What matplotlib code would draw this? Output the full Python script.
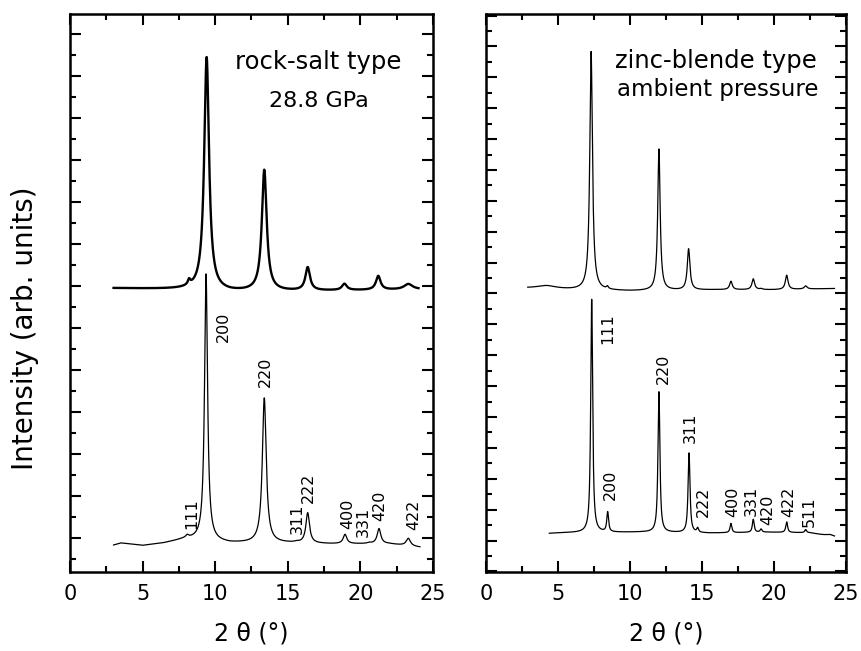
import numpy as np
import matplotlib
matplotlib.use('Agg')
from matplotlib import pyplot as plt
from matplotlib.ticker import MultipleLocator

plt.rcParams['font.family'] = ['DejaVu Sans']

# rock-salt type, 28.8 GPa (measured) : peak position, height, width
rs_exp_pos = [8.2, 9.41, 13.38, 16.37, 18.9, 21.23, 23.3]
rs_exp_height = [0.12, 5.55, 2.88, 0.55, 0.15, 0.33, 0.13]
rs_exp_width = [0.20, 0.40, 0.40, 0.38, 0.40, 0.38, 0.70]
rs_exp_base_x = [3.0, 8.0, 11.0, 15.0, 20.0, 24.0]
rs_exp_base_y = [5.95, 5.92, 5.87, 5.88, 5.90, 5.92]

# rock-salt type (calculated)
rs_calc_hkl = ['111', '200', '220', '311', '222', '400', '331', '420', '422']
rs_calc_pos = [8.08, 9.37, 13.38, 15.6, 16.37, 18.94, 20.6, 21.28, 23.3]
rs_calc_height = [0.05, 6.35, 3.45, 0.02, 0.72, 0.22, 0.02, 0.36, 0.18]
rs_calc_width = [0.20, 0.25, 0.32, 0.30, 0.30, 0.30, 0.30, 0.30, 0.35]
rs_calc_base_x = [3.0, 3.5, 5.0, 6.5, 8.0, 11.0, 15.0, 18.0, 22.0, 24.1]
rs_calc_base_y = [-0.17, -0.12, -0.18, -0.12, -0.02, -0.12, -0.12, -0.14, -0.14, -0.22]
rs_label_x = [8.36, 10.56, 13.45, 15.66, 16.42, 19.1, 20.22, 21.36, 23.7]
rs_label_y = [0.59, 5.03, 3.96, 0.47, 1.19, 0.57, 0.39, 0.77, 0.55]

# zinc-blende type, ambient pressure (measured)
zb_exp_pos = [4.2, 7.3, 8.43, 12.01, 14.07, 17.01, 18.56, 19.1, 20.88, 22.2]
zb_exp_height = [0.10, 7.72, 0.08, 4.58, 1.33, 0.27, 0.35, 0.03, 0.46, 0.10]
zb_exp_width = [1.6, 0.22, 0.15, 0.20, 0.22, 0.22, 0.22, 0.20, 0.22, 0.25]
zb_exp_base_x = [2.9, 6.0, 10.0, 16.0, 20.0, 24.2]
zb_exp_base_y = [8.17, 8.12, 8.08, 8.12, 8.12, 8.16]

# zinc-blende type (calculated)
zb_calc_hkl = ['111', '200', '220', '311', '222', '400', '331', '420', '422', '511']
zb_calc_pos = [7.34, 8.45, 12.01, 14.1, 14.7, 17.01, 18.56, 19.1, 20.88, 22.2, 23.9]
zb_calc_height = [7.55, 0.64, 4.55, 2.58, 0.14, 0.30, 0.42, 0.10, 0.34, 0.10, 0.05]
zb_calc_width = [0.16, 0.15, 0.16, 0.16, 0.15, 0.15, 0.15, 0.15, 0.15, 0.15, 0.6]
zb_calc_base_x = [4.4, 5.2, 10.8, 15.5, 19.5, 22.5, 24.2]
zb_calc_base_y = [0.23, 0.25, 0.27, 0.24, 0.27, 0.25, 0.12]
zb_label_x = [8.43, 8.66, 12.29, 14.21, 15.09, 17.13, 18.4, 19.54, 21.04, 22.45]
zb_label_y = [6.85, 1.81, 5.56, 3.66, 1.24, 1.24, 1.27, 0.98, 1.24, 0.92]


def pattern(base_x, base_y, pos, height, width, eta):
    x = np.linspace(base_x[0], base_x[-1], 4000)
    y = np.interp(x, base_x, base_y)
    for x0, h, w in zip(pos, height, width):
        d = (x - x0) / (w / 2)
        y = y + h * (eta / (1 + d**2) + (1 - eta) * np.exp(-np.log(2) * d**2))
    return x, y


def style_axes(ax, ymax, ymin):
    ax.set_xlim(0, 25)
    ax.set_ylim(ymin, ymax)
    ax.xaxis.set_major_locator(MultipleLocator(5))
    ax.xaxis.set_minor_locator(MultipleLocator(2.5))
    ax.yaxis.set_major_locator(MultipleLocator(1))
    ax.yaxis.set_minor_locator(MultipleLocator(0.5))
    ax.tick_params(which='both', direction='in', top=True, right=True, width=1.5,
                   labelleft=False, labelsize=15, pad=9)
    ax.tick_params(which='major', length=8)
    ax.tick_params(which='minor', length=4.5)
    for s in ax.spines.values():
        s.set_linewidth(1.8)
    ax.set_xlabel('2 θ (°)', fontsize=17, labelpad=12)


fig = plt.figure(figsize=(8.62, 6.51), dpi=100)
ax1 = fig.add_axes([70 / 862, 79 / 651, 363 / 862, 558 / 651])
ax2 = fig.add_axes([486 / 862, 79 / 651, 360 / 862, 558 / 651])

# left panel
x, y = pattern(rs_exp_base_x, rs_exp_base_y, rs_exp_pos, rs_exp_height, rs_exp_width, 1.0)
ax1.plot(x, y, color='black', lw=1.7)
x, y = pattern(rs_calc_base_x, rs_calc_base_y, rs_calc_pos, rs_calc_height, rs_calc_width, 1.0)
ax1.plot(x, y, color='black', lw=0.9)
for lab, lx, ly in zip(rs_calc_hkl, rs_label_x, rs_label_y):
    ax1.text(lx, ly, lab, rotation=90, ha='center', va='center', fontsize=11.5)
ax1.text(17.1, 11.18, 'rock-salt type', ha='center', va='baseline', fontsize=17.5)
ax1.text(17.15, 10.27, '28.8 GPa', ha='center', va='baseline', fontsize=16)
style_axes(ax1, 12.48, -0.81)

# right panel
x, y = pattern(zb_exp_base_x, zb_exp_base_y, zb_exp_pos, zb_exp_height, zb_exp_width, 1.0)
ax2.plot(x, y, color='black', lw=0.9)
x, y = pattern(zb_calc_base_x, zb_calc_base_y, zb_calc_pos, zb_calc_height, zb_calc_width, 0.9)
ax2.plot(x, y, color='black', lw=0.9)
for lab, lx, ly in zip(zb_calc_hkl, zb_label_x, zb_label_y):
    ax2.text(lx, ly, lab, rotation=90, ha='center', va='center', fontsize=11.5)
ax2.text(15.97, 15.3, 'zinc-blende type', ha='center', va='baseline', fontsize=17.5)
ax2.text(16.1, 14.38, 'ambient pressure', ha='center', va='baseline', fontsize=16.5)
style_axes(ax2, 17.05, -1.02)

fig.text(25 / 862, 1 - 328 / 651, 'Intensity (arb. units)', rotation=90,
         ha='center', va='center', fontsize=20)

fig.savefig('out.png', dpi=100)
